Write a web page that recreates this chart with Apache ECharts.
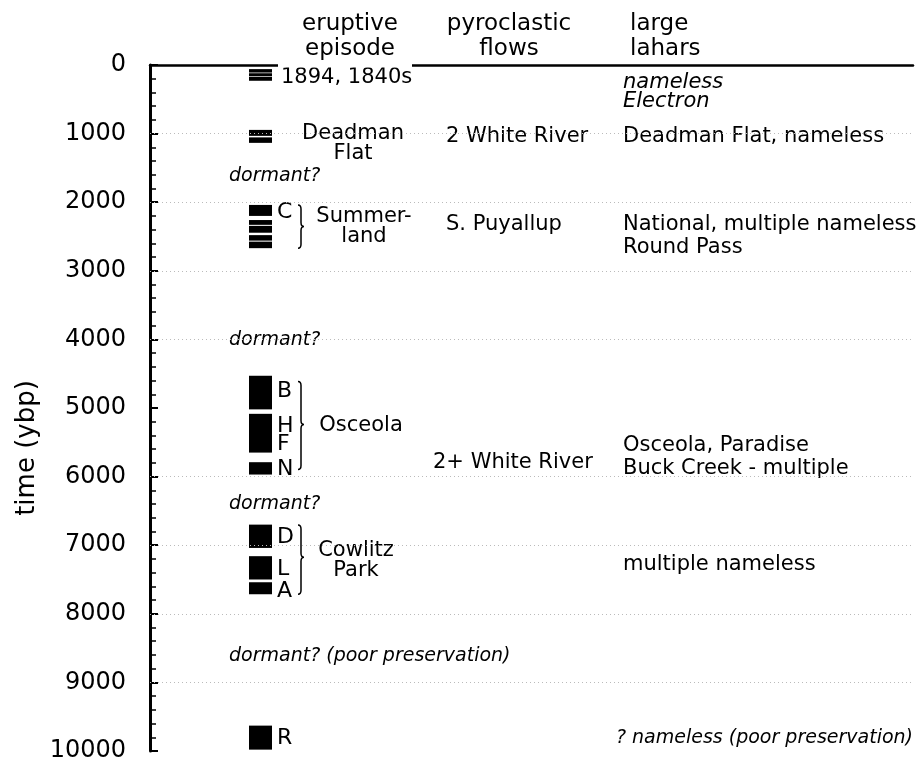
<!DOCTYPE html>
<html>
<head>
<meta charset="utf-8">
<script src="https://cdn.jsdelivr.net/npm/echarts@6/dist/echarts.min.js"></script>
<style>
html, body { margin: 0; padding: 0; background: #fff; }
#chart { width: 919px; height: 763px; }
</style>
</head>
<body>
<div id="chart"></div>
<script>
// eruptive episode stripes, years before present (top / bottom of each stripe)
var barTop    = [60, 120, 175, 946, 1055, 2040, 2260, 2345, 2480, 2575, 4530, 5085, 5790, 6700, 7160, 7540, 9630];
var barBottom = [110, 165, 230, 1033, 1135, 2200, 2330, 2445, 2560, 2670, 5020, 5650, 5970, 7040, 7500, 7715, 9980];

// tephra letters next to the stripes
var letters   = ['C', 'B', 'H', 'F', 'N', 'D', 'L', 'A', 'R'];
var letterYbp = [2140, 4755, 5265, 5531, 5895, 6885, 7351, 7667, 9811];

// brackets grouping the stripes
var braceTop    = [2040, 4614, 6706];
var braceMid    = [2353, 5240, 7176];
var braceBottom = [2670, 5895, 7715];

var historicText = '1894, 1840s';
var historicYbp = 185;
var episodeNames = ['Deadman\nFlat', 'Summer-\nland', 'Osceola', 'Cowlitz\nPark'];
var episodeYbp   = [1140, 2353, 5250, 7220];

var dormantText = ['dormant?', 'dormant?', 'dormant?', 'dormant? (poor preservation)'];
var dormantYbp  = [1626, 4003, 6405, 8613];

var pyroText = ['2 White River', 'S. Puyallup', '2+ White River'];
var pyroYbp  = [1043, 2329, 5798];

var laharText = ['nameless\nElectron', 'Deadman Flat, nameless', 'National, multiple nameless\nRound Pass',
                 'Osceola, Paradise\nBuck Creek - multiple', 'multiple nameless', '? nameless (poor preservation)'];
var laharYbp  = [396, 1043, 2499, 5719, 7278, 9815];
var laharItalic = [true, false, false, false, false, true];

var gridYbp = [1000, 2000, 3000, 4000, 6000, 7000, 8000, 9000];

// layout of the columns on the hidden x track
var BAR_X0 = 99, BAR_X1 = 122, LETTER_X = 127, BRACE_X = 148;
var nameX = [203, 214, 211, 206];
var HIST_X = 131, DORMANT_X = 79, LAHAR_X = 473, LAHAR_RIGHT = 763;
var pyroX = [296, 296, 283];

var FONT = 'DejaVu Sans';

var texts = [];
function addText(x, y, text, align, size, italic, lh) {
    texts.push({ x: x, y: y, text: text, align: align, font: (italic ? 'italic ' : '') + size + 'px "' + FONT + '"', lh: lh });
}
addText(HIST_X, historicYbp, historicText, 'left', 21, false, 20);
episodeNames.forEach(function (t, i) { addText(nameX[i], episodeYbp[i], t, 'center', 21, false, 20); });
letters.forEach(function (t, i) { addText(LETTER_X, letterYbp[i], t, 'left', 22, false, 20); });
dormantText.forEach(function (t, i) { addText(DORMANT_X, dormantYbp[i], t, 'left', 19, true, 20); });
pyroText.forEach(function (t, i) { addText(pyroX[i], pyroYbp[i], t, 'left', 21, false, 20); });
laharText.forEach(function (t, i) {
    var right = i === laharText.length - 1;
    var size = i === 0 ? 21 : (laharItalic[i] ? 19 : 21);
    addText(right ? LAHAR_RIGHT : LAHAR_X, laharYbp[i], t, right ? 'right' : 'left',
            size, laharItalic[i], laharItalic[i] ? 19 : 23);
});

var dom = document.getElementById('chart');
var myChart = echarts.init(dom, null, { renderer: 'canvas' });

var option = {
    animation: false,
    backgroundColor: '#fff',
    grid: { left: 150, right: 6, top: 65, bottom: 11 },
    xAxis: {
        type: 'value', position: 'top', min: 0, max: 763,
        axisLine: { show: true, onZero: false, lineStyle: { color: '#000', width: 2.5 } },
        axisTick: { show: false },
        axisLabel: { show: false },
        splitLine: { show: false }
    },
    yAxis: {
        type: 'value', inverse: true, min: 0, max: 10000, interval: 1000,
        axisLine: { show: true, lineStyle: { color: '#000', width: 3 } },
        axisTick: { show: true, inside: true, length: 8, lineStyle: { color: '#000', width: 2 } },
        minorTick: { show: true, splitNumber: 5, length: 6, lineStyle: { color: '#000', width: 1.5 } },
        axisLabel: {
            margin: 24, color: '#000', fontSize: 24, fontFamily: FONT, padding: [5, 0, 0, 0],
            formatter: function (v) { return String(v); }
        },
        splitLine: { show: false }
    },
    graphic: [
        { type: 'rect', z: 100, shape: { x: 278, y: 61, width: 134, height: 6.5 }, style: { fill: '#fff' } },
        { type: 'text', z: 100, x: 350, y: 37, style: { text: 'eruptive\nepisode', font: '23px "' + FONT + '"', fill: '#000', align: 'center', verticalAlign: 'middle', lineHeight: 25 } },
        { type: 'text', z: 100, x: 509, y: 37, style: { text: 'pyroclastic\nflows', font: '23px "' + FONT + '"', fill: '#000', align: 'center', verticalAlign: 'middle', lineHeight: 25 } },
        { type: 'text', z: 100, x: 630, y: 37, style: { text: 'large\nlahars', font: '23px "' + FONT + '"', fill: '#000', align: 'left', verticalAlign: 'middle', lineHeight: 25 } },
        { type: 'text', z: 100, x: 27, y: 448, rotation: Math.PI / 2, style: { text: 'time (ybp)', font: '26px "' + FONT + '"', fill: '#000', align: 'center', verticalAlign: 'middle' } }
    ],
    series: [
        {
            type: 'custom',
            name: 'episodes',
            encode: { x: 0, y: [1, 2] },
            data: barTop.map(function (t, i) { return [BAR_X0, t, barBottom[i]]; }),
            renderItem: function (params, api) {
                var a = api.coord([BAR_X0, api.value(1)]);
                var b = api.coord([BAR_X1, api.value(2)]);
                return { type: 'rect', shape: { x: a[0], y: a[1], width: b[0] - a[0], height: b[1] - a[1] }, style: { fill: '#000' } };
            },
            markLine: {
                silent: true,
                symbol: 'none',
                label: { show: false },
                lineStyle: { color: '#bbb', width: 1, type: [1, 3] },
                data: gridYbp.map(function (v) { return { yAxis: v }; })
            }
        },
        {
            type: 'custom',
            name: 'braces',
            encode: { x: 0, y: [1, 2, 3] },
            data: braceTop.map(function (t, i) { return [BRACE_X, t, braceMid[i], braceBottom[i]]; }),
            renderItem: function (params, api) {
                var t = api.coord([BRACE_X, api.value(1)]);
                var m = api.coord([BRACE_X, api.value(2)]);
                var b = api.coord([BRACE_X, api.value(3)]);
                var L = t[0], M = L + 3, R = L + 6;
                var d = 'M' + L + ' ' + t[1] + ' Q' + M + ' ' + t[1] + ' ' + M + ' ' + (t[1] + 4) +
                        ' L' + M + ' ' + (m[1] - 4) + ' Q' + M + ' ' + m[1] + ' ' + R + ' ' + m[1] +
                        ' Q' + M + ' ' + m[1] + ' ' + M + ' ' + (m[1] + 4) +
                        ' L' + M + ' ' + (b[1] - 4) + ' Q' + M + ' ' + b[1] + ' ' + L + ' ' + b[1];
                return { type: 'path', shape: { pathData: d }, style: { stroke: '#000', lineWidth: 1.5, fill: null } };
            }
        },
        {
            type: 'custom',
            name: 'labels',
            encode: { x: 0, y: 1 },
            data: texts.map(function (t) { return [t.x, t.y]; }),
            renderItem: function (params, api) {
                var it = texts[params.dataIndex];
                var p = api.coord([api.value(0), api.value(1)]);
                return {
                    type: 'text', x: p[0], y: p[1],
                    style: { text: it.text, font: it.font, fill: '#000', align: it.align, verticalAlign: 'middle', lineHeight: it.lh, backgroundColor: '#fff' }
                };
            }
        }
    ]
};

myChart.setOption(option);
window.addEventListener('resize', myChart.resize);
</script>
</body>
</html>
